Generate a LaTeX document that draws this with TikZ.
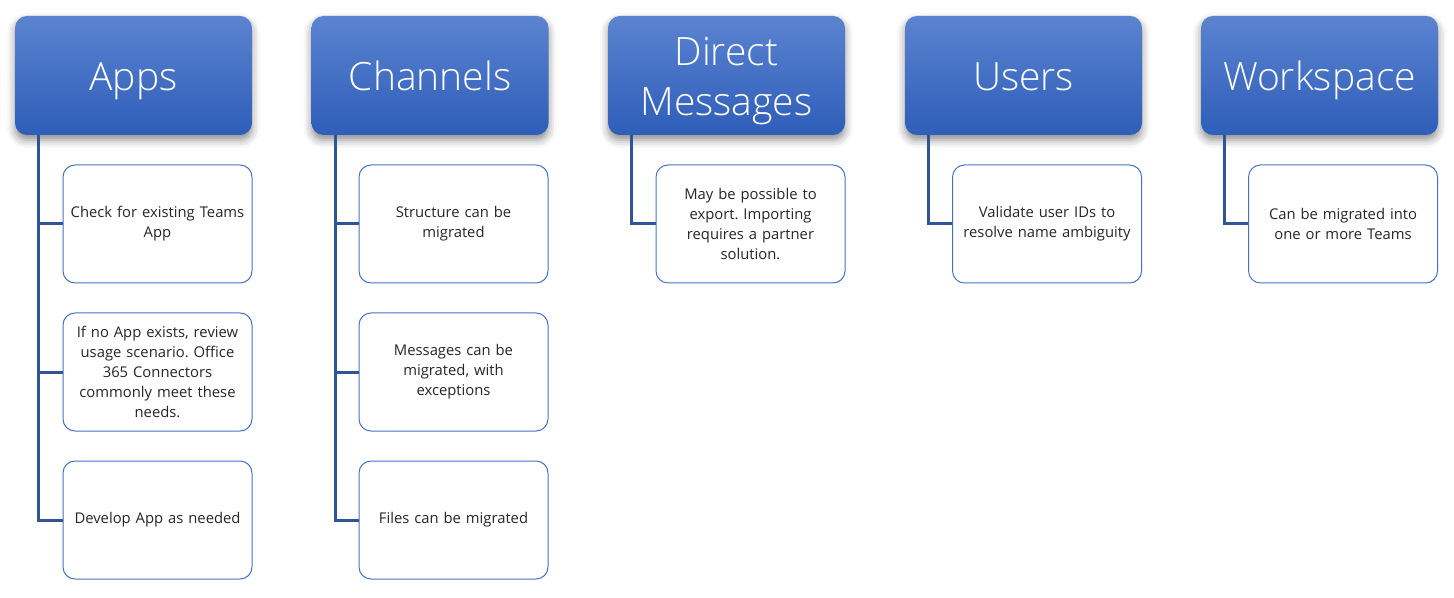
\documentclass[tikz,border=0pt]{standalone}
\usepackage{fontspec}
\setmainfont{Open Sans}
\newfontfamily\hfont{Open Sans Light}
\frenchspacing
\usetikzlibrary{shadows.blur}
\definecolor{hdtop}{HTML}{5B83D0}
\definecolor{hdbot}{HTML}{2E5EB9}
\definecolor{lnk}{HTML}{2F5597}
\definecolor{cbord}{HTML}{4472C4}
\tikzset{
  head/.style={rounded corners=6pt, minimum width=118.5pt, minimum height=59.5pt,
    top color=hdtop, bottom color=hdbot, draw=none, text=white,
    font=\hfont\fontsize{19.5}{25}\selectfont, align=center, inner sep=0pt,
    text height=15.3pt, text depth=0pt,
    blur shadow={shadow xshift=0pt, shadow yshift=-2.5pt, shadow blur radius=4pt, shadow opacity=45}},
  head2/.style={head, text height=40.3pt},
  child/.style={rounded corners=6pt, minimum width=94.5pt, minimum height=59pt,
    draw=cbord, line width=0.5pt, fill=white, text=black!85,
    font=\fontsize{7.4}{10}\selectfont, align=center, inner sep=2pt, text width=88pt},
  link/.style={draw=lnk, line width=1.5pt}
}
\begin{document}
\begin{tikzpicture}[x=0.5pt,y=-0.5pt]
\useasboundingbox (0,0) rectangle (1454,598);
% headers
\node[head] (h1) at (133.5,75.5) {Apps};
\node[head] (h2) at (430,75.5) {Channels};
\node[head2] (h3) at (726.5,75.5) {Direct\\Messages};
\node[head] (h4) at (1023.5,75.5) {Users};
\node[head] (h5) at (1319.5,75.5) {Workspace};
% children
\node[child] (a1) at (157.5,224) {Check for existing Teams\\App};
\node[child] (a2) at (157.5,372) {If no App exists, review\\usage scenario. Office\\365 Connectors\\commonly meet these\\needs.};
\node[child] (a3) at (157.5,520) {Develop App as needed};
\node[child] (c1) at (453.5,224) {Structure can be\\migrated};
\node[child] (c2) at (453.5,372) {Messages can be\\migrated, with\\exceptions};
\node[child] (c3) at (453.5,520) {Files can be migrated};
\node[child] (d1) at (750.5,224) {May be possible to\\export. Importing\\requires a partner\\solution.};
\node[child] (u1) at (1047,224) {Validate user IDs to\\resolve name ambiguity};
\node[child] (w1) at (1343,224) {Can be migrated into\\one or more Teams};
% connectors
\draw[link] ([xshift=12pt]h1.south west) |- (a1.west);
\draw[link] ([xshift=12pt]h1.south west) |- (a2.west);
\draw[link] ([xshift=12pt]h1.south west) |- (a3.west);
\draw[link] ([xshift=12pt]h2.south west) |- (c1.west);
\draw[link] ([xshift=12pt]h2.south west) |- (c2.west);
\draw[link] ([xshift=12pt]h2.south west) |- (c3.west);
\draw[link] ([xshift=12pt]h3.south west) |- (d1.west);
\draw[link] ([xshift=12pt]h4.south west) |- (u1.west);
\draw[link] ([xshift=12pt]h5.south west) |- (w1.west);
\end{tikzpicture}
\end{document}
